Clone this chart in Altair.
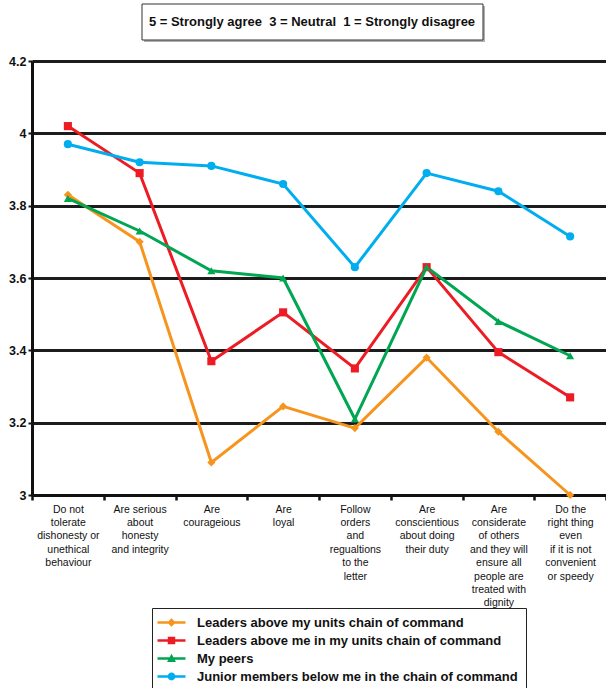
import altair as alt
import pandas as pd

categories = [
    "Do not\ntolerate\ndishonesty or\nunethical\nbehaviour",
    "Are serious\nabout\nhonesty\nand integrity",
    "Are\ncourageious",
    "Are\nloyal",
    "Follow\norders\nand\nregualtions\nto the\nletter",
    "Are\nconscientious\nabout doing\ntheir duty",
    "Are\nconsiderate\nof others\nand they will\nensure all\npeople are\ntreated with\ndignity",
    "Do the\nright thing\neven\nif it is not\nconvenient\nor speedy",
]

series_names = [
    "Leaders above my units chain of command",
    "Leaders above me in my units chain of command",
    "My peers",
    "Junior members below me in the chain of command",
]

leaders_units = [3.83, 3.70, 3.09, 3.245, 3.185, 3.38, 3.175, 3.0]
leaders_me = [4.02, 3.89, 3.37, 3.505, 3.35, 3.63, 3.395, 3.27]
peers = [3.82, 3.73, 3.62, 3.60, 3.21, 3.63, 3.48, 3.385]
juniors = [3.97, 3.92, 3.91, 3.86, 3.63, 3.89, 3.84, 3.715]

y_ticks = [3.0, 3.2, 3.4, 3.6, 3.8, 4.0, 4.2]
title_text = "5 = Strongly agree\u00a0\u00a03 = Neutral\u00a0\u00a01 = Strongly disagree"

colors = ["#F7941D", "#ED1C24", "#00A651", "#00AEEF"]
shapes = ["diamond", "square", "triangle-up", "circle"]

# legend symbols: line + marker drawn as one custom path (unit = sqrt(size)/2 px)
line_part = "M-1.8,-0.27 L3.8,-0.27 L3.8,0.27 L-1.8,0.27 Z "
legend_paths = [
    line_part + "M1,-0.85 L1.85,0 L1,0.85 L0.15,0 Z",
    line_part + "M0.25,-0.75 L1.75,-0.75 L1.75,0.75 L0.25,0.75 Z",
    line_part + "M1,-0.95 L1.9,0.7 L0.1,0.7 Z",
    line_part + "M0.22,0 A0.78,0.78 0 1,1 1.78,0 A0.78,0.78 0 1,1 0.22,0 Z",
]

all_vals = [leaders_units, leaders_me, peers, juniors]
rows = []
for s, vals in zip(series_names, all_vals):
    for c, v in zip(categories, vals):
        rows.append({"category": c, "series": s, "value": v})
df = pd.DataFrame(rows)

FONT = "Liberation Sans"

x_enc = alt.X(
    "category:N",
    sort=categories,
    scale=alt.Scale(type="band", paddingInner=0, paddingOuter=0),
    axis=alt.Axis(
        title=None,
        labelAngle=0,
        labelExpr="split(datum.label, '\\n')",
        labelAlign="center",
        labelBaseline="top",
        labelFontSize=10.5,
        labelLineHeight=13.4,
        labelFont=FONT,
        labelColor="#111",
        labelPadding=4,
        tickBand="extent",
        tickSize=5,
        tickWidth=2.5,
        tickColor="#111",
        domainColor="#111",
        domainWidth=3,
        grid=False,
        labelLimit=200,
    ),
)
y_enc = alt.Y(
    "value:Q",
    scale=alt.Scale(domain=[3, 4.2], nice=False, zero=False),
    axis=alt.Axis(
        title=None,
        values=y_ticks,
        format=".1~f",
        labelFont=FONT,
        labelFontSize=12.5,
        labelFontWeight="bold",
        labelColor="#111",
        labelPadding=2,
        tickSize=4,
        tickWidth=2,
        tickColor="#111",
        domainColor="#111",
        domainWidth=3,
        grid=True,
        gridColor="#1c1c1c",
        gridWidth=3,
        gridOpacity=1,
    ),
)
color_scale = alt.Scale(domain=series_names, range=colors)
shape_scale = alt.Scale(domain=series_names, range=shapes)

base = alt.Chart(df)
lines = base.mark_line(strokeWidth=3).encode(
    x=x_enc,
    y=y_enc,
    color=alt.Color("series:N", scale=color_scale, legend=None),
    detail="series:N",
)
points = base.mark_point(filled=True, size=66, opacity=1).encode(
    x=x_enc,
    y=y_enc,
    color=alt.Color("series:N", scale=color_scale, legend=None),
    shape=alt.Shape("series:N", scale=shape_scale, legend=None),
)

legend_props = dict(
    title=None,
    orient="none",
    legendX=120,
    legendY=547,
    direction="vertical",
    labelFont=FONT,
    labelFontSize=13,
    labelFontWeight="bold",
    labelColor="#111",
    labelOffset=24,
    labelLimit=400,
    rowPadding=4,
    padding=8,
    symbolSize=100,
    symbolStrokeWidth=0,
    symbolOpacity=1,
    strokeColor="#222",
    fillColor="white",
)
legend_layer = (
    base.transform_filter("false")
    .mark_point(filled=True, size=100, opacity=1)
    .encode(
        color=alt.Color(
            "series:N",
            scale=alt.Scale(domain=series_names, range=colors),
            legend=alt.Legend(**legend_props),
        ),
        shape=alt.Shape(
            "series:N",
            scale=alt.Scale(domain=series_names, range=legend_paths),
            legend=alt.Legend(**legend_props),
        ),
    )
)

title_df = pd.DataFrame({"t": [title_text]})
tbase = alt.Chart(title_df)
box_shadow = tbase.mark_rect(fill="#b0b0b0").encode(
    x=alt.value(112), x2=alt.value(453), y=alt.value(-55), y2=alt.value(-19)
)
box = tbase.mark_rect(fill="white", stroke="#333", strokeWidth=1).encode(
    x=alt.value(110), x2=alt.value(451), y=alt.value(-57), y2=alt.value(-21)
)
title = tbase.mark_text(
    font=FONT, fontSize=13, fontWeight="bold", color="#111", align="center", baseline="middle"
).encode(x=alt.value(280), y=alt.value(-39), text="t:N")

chart = (
    alt.layer(box_shadow, box, title, lines, points, legend_layer)
    .resolve_scale(color="independent", shape="independent")
    .properties(
        width=574,
        height=434,
        autosize=alt.AutoSizeParams(type="none"),
        padding={"left": 32, "top": 61, "right": 0, "bottom": 193},
    )
    .configure_view(stroke=None)
    .configure(background="white")
)

chart.save("out.html", embed_options={"renderer": "svg", "actions": False})
